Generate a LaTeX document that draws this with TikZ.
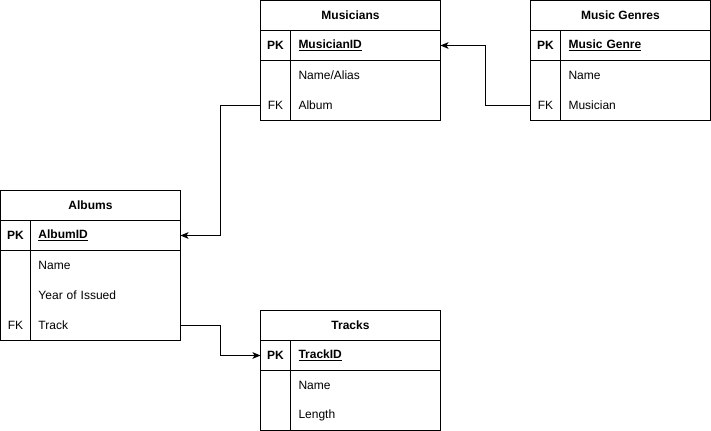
\documentclass[tikz,border=0pt]{standalone}
\usepackage{fontspec}
\setmainfont{Liberation Sans}
\usetikzlibrary{arrows.meta}
\begin{document}
\begin{tikzpicture}[x=0.75pt,y=-0.75pt,line width=0.75pt,
  cell/.style={minimum height=22.5pt,inner sep=0pt,outer sep=0pt,font=\fontsize{9}{11}\selectfont},
  head/.style={cell,draw,minimum width=135pt,font=\fontsize{9}{11}\selectfont\bfseries},
  keycell/.style={cell,minimum width=22.5pt},
  fieldcell/.style={cell,minimum width=112.5pt,text width=100.5pt,inner xsep=6pt,align=left},
  link/.style={-{Stealth[length=6pt,width=5pt,inset=1.5pt]}}]
\useasboundingbox (0,0) rectangle (711,431);
% Musicians
\node[head] (mus) at (350.5,15.5) {Musicians};
\node[keycell,draw] (musIDK) at (275.5,45.5) {\bfseries PK};
\node[fieldcell,draw] (musID) at (365.5,45.5) {\bfseries\underline{MusicianID}};
\node[keycell] (musNameK) at (275.5,75.5) {};
\node[fieldcell] (musName) at (365.5,75.5) {Name/Alias};
\node[keycell] (musAlbumK) at (275.5,105.5) {FK};
\node[fieldcell] (musAlbum) at (365.5,105.5) {Album};
\draw (musNameK.north west) rectangle (musAlbumK.south east);
\draw (musName.north west) rectangle (musAlbum.south east);
% Music Genres
\node[head] (gen) at (620.5,15.5) {Music Genres};
\node[keycell,draw] (genIDK) at (545.5,45.5) {\bfseries PK};
\node[fieldcell,draw] (genID) at (635.5,45.5) {\bfseries\underline{Music Genre}};
\node[keycell] (genNameK) at (545.5,75.5) {};
\node[fieldcell] (genName) at (635.5,75.5) {Name};
\node[keycell] (genMusK) at (545.5,105.5) {FK};
\node[fieldcell] (genMus) at (635.5,105.5) {Musician};
\draw (genNameK.north west) rectangle (genMusK.south east);
\draw (genName.north west) rectangle (genMus.south east);
% Albums
\node[head] (alb) at (90.5,205.5) {Albums};
\node[keycell,draw] (albIDK) at (15.5,235.5) {\bfseries PK};
\node[fieldcell,draw] (albID) at (105.5,235.5) {\bfseries\underline{AlbumID}};
\node[keycell] (albNameK) at (15.5,265.5) {};
\node[fieldcell] (albName) at (105.5,265.5) {Name};
\node[keycell] (albYearK) at (15.5,295.5) {};
\node[fieldcell] (albYear) at (105.5,295.5) {Year of Issued};
\node[keycell] (albTrackK) at (15.5,325.5) {FK};
\node[fieldcell] (albTrack) at (105.5,325.5) {Track};
\draw (albNameK.north west) rectangle (albTrackK.south east);
\draw (albName.north west) rectangle (albTrack.south east);
% Tracks
\node[head] (trk) at (350.5,325.5) {Tracks};
\node[keycell,draw] (trkIDK) at (275.5,355.5) {\bfseries PK};
\node[fieldcell,draw] (trkID) at (365.5,355.5) {\bfseries\underline{TrackID}};
\node[keycell] (trkNameK) at (275.5,385.5) {};
\node[fieldcell] (trkName) at (365.5,385.5) {Name};
\node[keycell] (trkLenK) at (275.5,415.5) {};
\node[fieldcell] (trkLen) at (365.5,415.5) {Length};
\draw (trkNameK.north west) rectangle (trkLenK.south east);
\draw (trkName.north west) rectangle (trkLen.south east);
% connectors
\draw[link] (genMusK.west) -- ++(-45,0) |- (musID.east);
\draw[link] (musAlbumK.west) -- ++(-40,0) |- (albID.east);
\draw[link] (albTrack.east) -- ++(40,0) |- (trkIDK.west);
\end{tikzpicture}
\end{document}
